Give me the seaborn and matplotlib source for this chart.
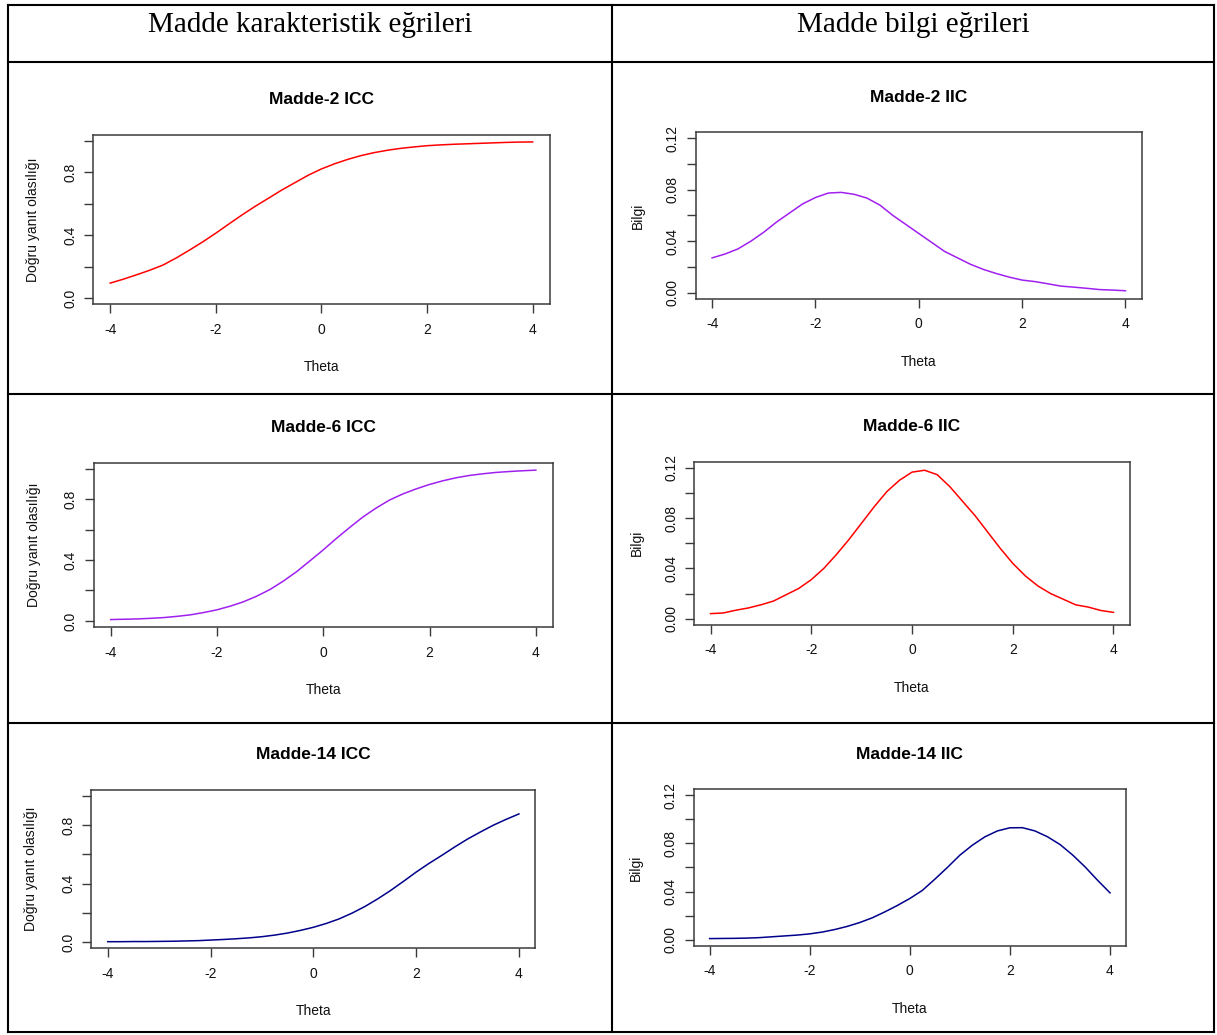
import matplotlib
matplotlib.use("Agg")
import matplotlib.pyplot as plt
from matplotlib.lines import Line2D
import seaborn as sns
import pandas as pd
import numpy as np

# ---------------- data ----------------
theta = [-4, -3.75, -3.5, -3.25, -3, -2.75, -2.5, -2.25, -2, -1.75, -1.5, -1.25,
         -1, -0.75, -0.5, -0.25, 0, 0.25, 0.5, 0.75, 1, 1.25, 1.5, 1.75, 2,
         2.25, 2.5, 2.75, 3, 3.25, 3.5, 3.75, 4]

icc_m2 = [.095, .12, .148, .177, .21, .255, .305, .357, .413, .472, .53, .585,
          .636, .688, .735, .782, .822, .855, .883, .907, .926, .941, .953, .962,
          .970, .975, .979, .982, .985, .988, .991, .993, .994]
iic_m2 = [.027, .030, .034, .040, .047, .055, .062, .069, .074, .0775, .078, .0765,
          .0735, .068, .060, .053, .046, .039, .032, .027, .022, .018, .0148, .012,
          .0097, .0085, .0068, .005, .0042, .0033, .0023, .0019, .0014]
icc_m6 = [.009, .011, .013, .017, .022, .030, .040, .055, .073, .097, .126, .163,
          .207, .262, .324, .395, .467, .543, .615, .684, .743, .795, .835, .868,
          .897, .921, .941, .956, .967, .976, .982, .987, .991]
iic_m6 = [.004, .0045, .0067, .0085, .011, .014, .019, .024, .031, .040, .051, .063,
          .076, .089, .101, .110, .1165, .118, .1145, .105, .0935, .082, .069, .056,
          .044, .034, .026, .020, .0155, .011, .0092, .0065, .005]
icc_m14 = [.005, .005, .006, .006, .007, .008, .010, .012, .016, .020, .025, .031,
           .039, .050, .064, .082, .103, .129, .160, .199, .244, .296, .353, .415,
           .479, .538, .593, .650, .704, .752, .798, .838, .875]
iic_m14 = [.0011, .0012, .0013, .0015, .0019, .0026, .0033, .0040, .005, .0065, .0086, .0112,
           .0144, .0183, .0232, .0285, .0343, .041, .0503, .060, .0702, .0785, .0854, .0903,
           .0929, .0930, .0903, .0855, .0791, .0705, .0606, .0495, .039]

col_headers = ["Madde karakteristik eğrileri", "Madde bilgi eğrileri"]
titles = ["Madde-2 ICC", "Madde-2 IIC", "Madde-6 ICC", "Madde-6 IIC",
          "Madde-14 ICC", "Madde-14 IIC"]
x_label = "Theta"
y_label_icc = "Doğru yanıt olasılığı"
y_label_iic = "Bilgi"
x_ticks = [-4, -2, 0, 2, 4]
icc_ticks = [0, 0.2, 0.4, 0.6, 0.8, 1.0]
icc_ticklabels = ["0.0", "", "0.4", "", "0.8", ""]
iic_ticks = [0, 0.02, 0.04, 0.06, 0.08, 0.10, 0.12]
iic_ticklabels = ["0.00", "", "0.04", "", "0.08", "", "0.12"]

series = [icc_m2, iic_m2, icc_m6, iic_m6, icc_m14, iic_m14]
colors = ["#FF0000", "#A020F0", "#A020F0", "#FF0000", "#00008B", "#00008B"]

# ---------------- figure ----------------
W, H = 1217, 1035
plt.rcParams['axes.unicode_minus'] = False
fig = plt.figure(figsize=(W / 100, H / 100), dpi=100)
fig.patch.set_facecolor("white")

def px(x, y):
    return x / W, 1 - y / H

# table lines
lw_tab = 1.5
for (x0, y0, x1, y1) in [
    (8, 5, 1214, 5), (8, 1032, 1214, 1032),
    (8, 5, 8, 1032), (1214, 5, 1214, 1032), (612, 5, 612, 1032),
    (8, 62, 1214, 62), (8, 393.5, 1214, 393.5), (8, 722.5, 1214, 722.5)]:
    a, b = px(x0, y0)
    c, d = px(x1, y1)
    fig.add_artist(Line2D([a, c], [b, d], color="black", lw=lw_tab,
                          solid_capstyle="projecting"))

for cx, txt in zip([310, 913], col_headers):
    fx, fy = px(cx, 32.5)
    fig.text(fx, fy, txt, ha="center", va="baseline",
             family=["Liberation Serif", "DejaVu Serif"], fontsize=21)

# axes boxes in pixels: left, right, top, bottom
boxes = [
    (93.3, 549.6, 134.7, 304.3),
    (695.6, 1142.0, 132.3, 298.7),
    (93.7, 552.8, 462.7, 627.0),
    (694.4, 1129.6, 461.7, 624.7),
    (91.3, 535.4, 789.7, 948.3),
    (693.6, 1126.0, 789.3, 945.7),
]

sans = ["Liberation Sans", "DejaVu Sans"]
spine_col = "#3a3a3a"

for i, (box, vals, col, title) in enumerate(zip(boxes, series, colors, titles)):
    l, r, t, b = box
    ax = fig.add_axes([l / W, 1 - b / H, (r - l) / W, (b - t) / H])
    df = pd.DataFrame({"Theta": theta, "y": vals})
    sns.lineplot(data=df, x="Theta", y="y", ax=ax, color=col, lw=1.1,
                 estimator=None, sort=False)
    is_icc = (i % 2 == 0)
    ax.set_xlim(-4.32, 4.32)
    if is_icc:
        ax.set_ylim(-0.04, 1.04)
        ax.set_yticks(icc_ticks)
        ax.set_yticklabels(icc_ticklabels)
        ylab = y_label_icc
    else:
        ax.set_ylim(-0.0048, 0.1248)
        ax.set_yticks(iic_ticks)
        ax.set_yticklabels(iic_ticklabels)
        ylab = y_label_iic
    ax.set_xticks(x_ticks)
    ax.set_xticklabels([str(v) for v in x_ticks])
    for s in ax.spines.values():
        s.set_color(spine_col)
        s.set_linewidth(1.1)
    ax.tick_params(axis="both", direction="out", length=6.5, width=1.0,
                   color=spine_col, labelsize=10, labelcolor="#111111")
    ax.tick_params(axis="x", pad=7)
    ax.tick_params(axis="y", pad=5)
    for lab in ax.get_xticklabels() + ax.get_yticklabels():
        lab.set_family(sans)
    for lab in ax.get_yticklabels():
        lab.set_rotation(90)
        lab.set_va("center")
        lab.set_ha("right")
    ax.set_xlabel("")
    ax.set_ylabel("")
    ax.grid(False)
    ax.set_facecolor("white")

    cx = (l + r) / 2
    cy = (t + b) / 2
    fx, fy = px(cx, t - 35)
    fig.text(fx, fy, title, ha="center", va="center", family=sans,
             fontsize=12.5, fontweight="bold")
    fx, fy = px(cx, b + 63)
    fig.text(fx, fy, x_label, ha="center", va="center", family=sans,
             fontsize=10, color="#111111")
    ylx = (l - 60) if is_icc else (l - 58)
    fx, fy = px(ylx, cy)
    fig.text(fx, fy, ylab, ha="center", va="center", rotation=90,
             family=sans, fontsize=10, color="#111111")

fig.savefig("out.png", dpi=100, facecolor="white")
